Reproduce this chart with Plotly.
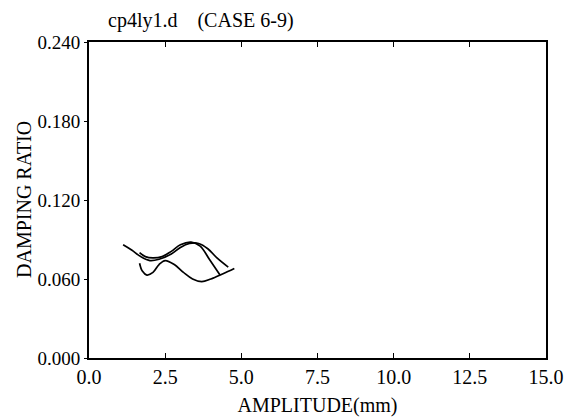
import plotly.graph_objects as go

# Curve data (amplitude in mm, damping ratio)
c1_x = [1.12, 1.4, 1.7, 2.0, 2.3, 2.7, 3.0, 3.3, 3.6, 3.9, 4.2, 4.57]
c1_y = [0.086, 0.082, 0.077, 0.074, 0.075, 0.079, 0.084, 0.087, 0.087, 0.083, 0.076, 0.069]

c2_x = [1.66, 1.85, 2.1, 2.4, 2.7, 3.0, 3.35, 3.65, 3.95, 4.3]
c2_y = [0.080, 0.077, 0.076, 0.077, 0.081, 0.086, 0.088, 0.085, 0.075, 0.063]

c3_x = [1.66, 1.75, 1.9, 2.1, 2.3, 2.5, 2.8, 3.1, 3.4, 3.7, 4.0, 4.4, 4.77]
c3_y = [0.072, 0.066, 0.063, 0.065, 0.071, 0.074, 0.071, 0.065, 0.060, 0.058, 0.060, 0.064, 0.068]

x_ticks = [0.0, 2.5, 5.0, 7.5, 10.0, 12.5, 15.0]
x_tick_labels = ["0.0", "2.5", "5.0", "7.5", "10.0", "12.5", "15.0"]
y_ticks = [0.0, 0.06, 0.12, 0.18, 0.24]
y_tick_labels = ["0.000", "0.060", "0.120", "0.180", "0.240"]

FONT = "Liberation Serif"

fig = go.Figure()
for xs, ys in [(c1_x, c1_y), (c2_x, c2_y), (c3_x, c3_y)]:
    fig.add_trace(go.Scatter(x=xs, y=ys, mode="lines",
                             line=dict(color="black", width=1.7, shape="spline"),
                             showlegend=False, hoverinfo="skip"))

fig.update_layout(
    width=564, height=417,
    margin=dict(l=89, r=18, t=42, b=59),
    paper_bgcolor="white", plot_bgcolor="white",
    font=dict(family=FONT, size=20, color="black"),
    title=dict(text="cp4ly1.d\u3000(CASE 6-9)", xref="container", yref="container",
               x=108/564, xanchor="left", y=1-20/417, yanchor="middle",
               font=dict(family=FONT, size=20, color="black")),
)
fig.add_annotation(text="DAMPING RATIO", textangle=-90, showarrow=False,
                   xref="paper", yref="paper", x=(24-89)/457, y=0.5,
                   xanchor="center", yanchor="middle",
                   font=dict(family=FONT, size=20, color="black"))
fig.update_xaxes(
    range=[0, 15], tickvals=x_ticks, ticktext=x_tick_labels, automargin=False,
    showgrid=False, zeroline=False, showline=True, linecolor="black", linewidth=2,
    mirror="ticks", ticks="inside", ticklen=5, tickcolor="black",
    title=dict(text="AMPLITUDE(mm)", standoff=14, font=dict(family=FONT, size=20)),
    tickfont=dict(family=FONT, size=20),
)
fig.update_yaxes(
    range=[0, 0.24], tickvals=y_ticks, ticktext=y_tick_labels, automargin=False,
    showgrid=False, zeroline=False, showline=True, linecolor="black", linewidth=2,
    mirror=True, ticks="outside", ticklen=3, tickcolor="black",
    tickfont=dict(family=FONT, size=19),
)

fig.write_html("out.html")
